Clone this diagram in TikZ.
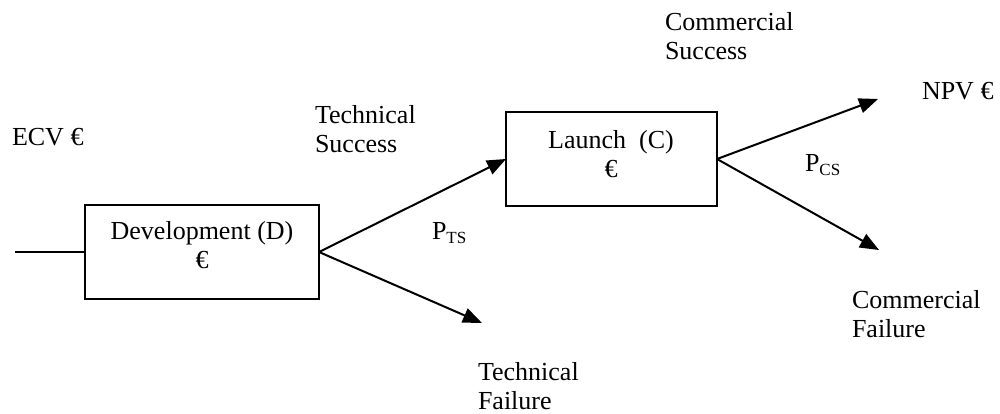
\documentclass[tikz,border=0pt]{standalone}
\usepackage{fontspec}
\setmainfont{Liberation Serif}
\usetikzlibrary{arrows.meta}

% small lowered index used in the probability labels
\newcommand\probidx[1]{\raisebox{-2pt}{\fontsize{8.5}{9}\selectfont #1}}

\begin{document}
\begin{tikzpicture}[x=0.5pt,y=-0.5pt,
  every node/.style={font=\fontsize{13}{14.5}\selectfont, inner sep=0pt, outer sep=0pt},
  stagebox/.style={draw, line width=1pt, minimum height=47pt},
  lbl/.style={anchor=base west, align=left},
  boxtext/.style={anchor=base, align=center},
  conn/.style={line width=1pt},
  arr/.style={line width=1pt, -{Triangle[length=9.5pt,width=7.5pt]}}]

\useasboundingbox (0,0) rectangle (1000,413);

% decision stages (multi-line texts are placed by the baseline of their last line)
\node[stagebox, minimum width=117pt] (dev) at (202,252) {};
\node[boxtext] (devtxt) at (202,268) {Development (D)\\€};
\node[stagebox, minimum width=105.5pt] (launch) at (611.5,159) {};
\node[boxtext] (launchtxt) at (611,177) {Launch\ \ (C)\\€};

% free ends of the tree
\coordinate (entry) at (15,252);
\coordinate (tfail) at (482,323);
\coordinate (csucc) at (878,99);
\coordinate (cfail) at (879,250);

% branches
\draw[conn] (entry) -- (dev.west);
\draw[arr] (dev.east) -- (launch.west);
\draw[arr] (dev.east) -- (tfail);
\draw[arr] (launch.east) -- (csucc);
\draw[arr] (launch.east) -- (cfail);

% labels
\node[lbl] (ecv) at (12,145) {ECV €};
\node[lbl] (tsucc) at (315,152) {Technical\\Success};
\node[lbl] (pts) at (432,239) {P\probidx{TS}};
\node[lbl] (tfailtxt) at (478,409) {Technical\\Failure};
\node[lbl] (csucctxt) at (665,59) {Commercial\\Success};
\node[lbl] (npv) at (922,99) {NPV €};
\node[lbl] (pcs) at (805,171) {P\probidx{CS}};
\node[lbl] (cfailtxt) at (852,337) {Commercial\\Failure};

\end{tikzpicture}
\end{document}
